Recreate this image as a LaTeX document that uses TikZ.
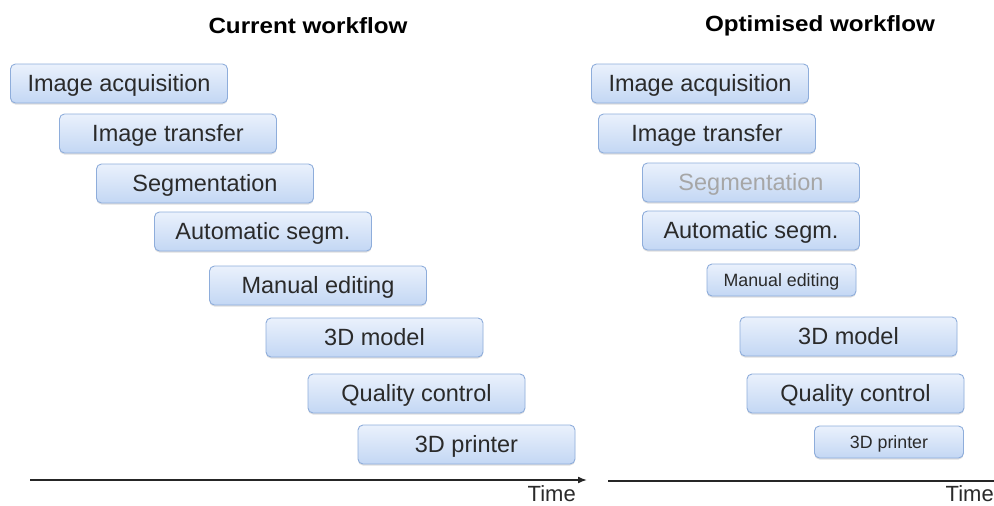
\documentclass[tikz,border=0pt]{standalone}
\usepackage{fontspec}
\setmainfont{Liberation Sans}
\newfontfamily\ttlfont[FakeStretch=1.1]{Liberation Sans}
\usetikzlibrary{arrows.meta,shadows}
\definecolor{boxtop}{HTML}{EAF1FC}
\definecolor{boxbot}{HTML}{C3D7F4}
\definecolor{boxline}{HTML}{8EADDB}
\definecolor{txt}{HTML}{2A2A2A}
\tikzset{
  wbox/.style={draw=boxline, line width=0.9pt, rounded corners=5pt,
    top color=boxtop, bottom color=boxbot, text=txt,
    minimum width=217pt, minimum height=39pt, inner sep=0pt,
    text height=21.5pt, text depth=4.7pt,
    font=\fontsize{23.5}{26}\selectfont,
    drop shadow={shadow xshift=0pt, shadow yshift=-1.5pt, opacity=0.25, fill=gray}},
  sbox/.style={wbox, minimum width=149pt, minimum height=32pt,
    text height=16.3pt, text depth=3.6pt, font=\fontsize{17.8}{20}\selectfont},
  ttl/.style={font=\ttlfont\bfseries\fontsize{22}{25}\selectfont, text=black},
  timel/.style={font=\fontsize{22}{25}\selectfont, text=txt, inner sep=0pt},
  axis/.style={line width=1.6pt, draw=black!85}
}
\begin{document}
\begin{tikzpicture}[x=1pt,y=-1pt]
\useasboundingbox (0,0) rectangle (994,506);
\node[ttl] (t1) at (308,26) {Current workflow};
\node[ttl] (t2) at (820,26) {Optimised workflow};
% left
\node[wbox] (l1) at (119,83.5) {Image acquisition};
\node[wbox] (l2) at (168,133.5) {Image transfer};
\node[wbox] (l3) at (205,183.5) {Segmentation};
\node[wbox] (l4) at (263,231.5) {Automatic segm.};
\node[wbox] (l5) at (318,285.5) {Manual editing};
\node[wbox] (l6) at (374.5,337.5) {3D model};
\node[wbox] (l7) at (416.5,393.5) {Quality control};
\node[wbox] (l8) at (466.5,444.5) {3D printer};
% right
\node[wbox] (r1) at (700,83.5) {Image acquisition};
\node[wbox] (r2) at (707,133.5) {Image transfer};
\node[wbox, text=black!35] (r3) at (751,182.5) {Segmentation};
\node[wbox] (r4) at (751,230.5) {Automatic segm.};
\node[sbox] (r5) at (781.5,280) {Manual editing};
\node[wbox] (r6) at (848.5,336.5) {3D model};
\node[wbox] (r7) at (855.5,393.5) {Quality control};
\node[sbox] (r8) at (889,442) {3D printer};
% axes
\coordinate (a1s) at (30,480);
\coordinate (a1e) at (587,480);
\coordinate (a2s) at (608,481);
\coordinate (a2e) at (994,481);
\draw[axis, -{Latex[length=9pt,width=7pt]}] (a1s) -- (a1e);
\draw[axis] (a2s) -- (a2e);
\node[timel, anchor=north east] (time1) at (576,485) {Time};
\node[timel, anchor=north east] (time2) at (994,485) {Time};
\end{tikzpicture}
\end{document}
